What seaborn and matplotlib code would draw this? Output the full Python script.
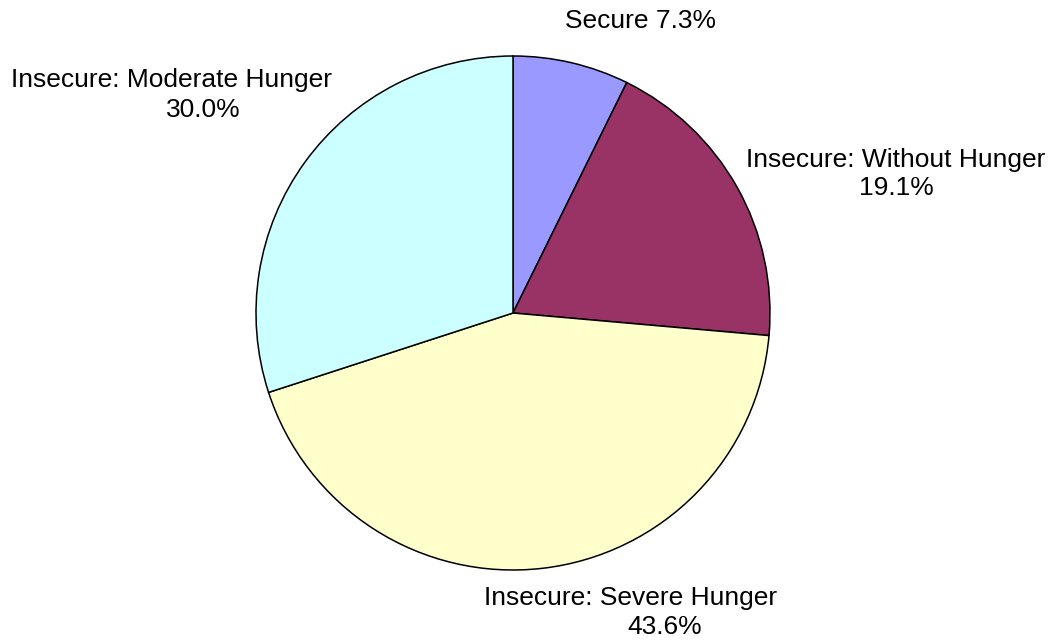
import matplotlib
matplotlib.use('Agg')
import matplotlib.pyplot as plt
import seaborn as sns

categories = ['Secure', 'Insecure: Without Hunger', 'Insecure: Severe Hunger', 'Insecure: Moderate Hunger']
shares = [7.3, 19.1, 43.6, 30.0]
colors = ['#9999FF', '#993366', '#FFFFCC', '#CCFFFF']

sns.set_theme(style='white')
plt.rcParams['font.family'] = ['Liberation Sans', 'DejaVu Sans']

fig = plt.figure(figsize=(10.51, 6.41), dpi=100)
ax = fig.add_axes([0, 0, 1, 1])

ax.pie(shares, colors=colors, startangle=90, counterclock=False,
       wedgeprops=dict(edgecolor='black', linewidth=1.1))

# pie radius is 1 in data units; map axes so the pie sits where it does in the original
r_px = 257
cx, cy = 513, 313
ax.set_xlim(-cx / r_px, (1051 - cx) / r_px)
ax.set_ylim(-(641 - cy) / r_px, cy / r_px)
ax.set_aspect('auto')
ax.axis('off')

fs = 19
txt = dict(ha='center', va='center', fontsize=fs, color='black')
# label placement (name line, percent line) in pie units
ax.text(0.498, 1.136, f'{categories[0]} {shares[0]:.1f}%', **txt)
label_pos = {
    1: ((1.490, 0.595), (1.490, 0.486)),
    2: ((0.459, -1.109), (0.591, -1.222)),
    3: ((-1.327, 0.907), (-1.206, 0.790)),
}
for i, (name_xy, pct_xy) in label_pos.items():
    ax.text(*name_xy, categories[i], **txt)
    ax.text(*pct_xy, f'{shares[i]:.1f}%', **txt)

fig.savefig('out.png', dpi=100, facecolor='white')
plt.close()
